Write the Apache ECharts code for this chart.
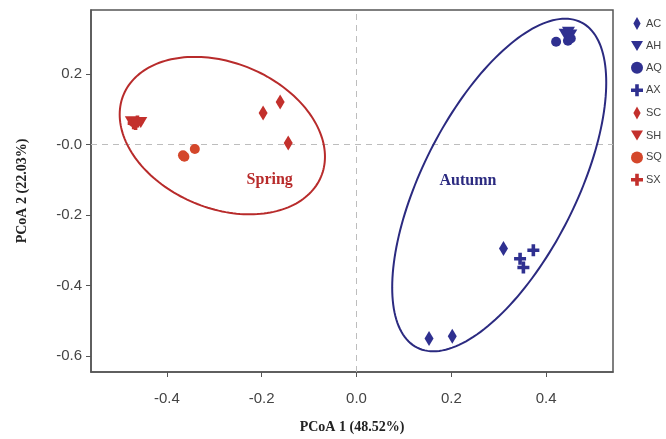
<!DOCTYPE html>
<html>
<head>
<meta charset="utf-8">
<script src="https://cdn.jsdelivr.net/npm/echarts@6/dist/echarts.min.js"></script>
<style>
  html, body { margin: 0; padding: 0; background: #fff; }
  #chart { width: 666px; height: 439px; }
</style>
</head>
<body>
<div id="chart"></div>
<script>
// PCoA scores, [PCoA1, PCoA2]
const AC = [[0.310, -0.295], [0.153, -0.550], [0.202, -0.544]];
const AH = [[0.440, 0.312], [0.452, 0.310], [0.447, 0.318]];
const AQ = [[0.421, 0.291], [0.446, 0.294], [0.452, 0.300]];
const AX = [[0.373, -0.300], [0.345, -0.324], [0.352, -0.349]];
const SC = [[-0.197, 0.089], [-0.161, 0.120], [-0.144, 0.004]];
const SH = [[-0.475, 0.064], [-0.463, 0.062], [-0.455, 0.062]];
const SQ = [[-0.341, -0.013], [-0.363, -0.035], [-0.366, -0.031]];
const SX = [[-0.470, 0.060], [-0.462, 0.065], [-0.466, 0.058]];

const groupNames = ['AC', 'AH', 'AQ', 'AX', 'SC', 'SH', 'SQ', 'SX'];
const groupData = [AC, AH, AQ, AX, SC, SH, SQ, SX];

// confidence ellipses: centre and the two semi-axis vectors, in data units
const ellipseNames = ['Spring', 'Autumn'];
const ellipseCenters = [[-0.283, 0.025], [0.301, -0.115]];
const ellipseAxisU = [[0.208, -0.117], [0.173, 0.461]];
const ellipseAxisV = [[-0.060, -0.190], [0.145, -0.098]];
const labelPos = [[-0.183, -0.100], [0.235, -0.102]];

const xTicks = [-0.4, -0.2, 0, 0.2, 0.4];
const yTicks = [-0.6, -0.4, -0.2, 0, 0.2];

const RED = '#c3302c';
const ORANGE = '#d4472b';
const BLUE = '#2f3090';
const ELL_COLORS = ['#b82b2b', '#2b2a80'];

const DIAMOND = 'path://M5,0 L10,9 L5,18 L0,9 Z';
const TRI_DOWN = 'path://M0,0 L12,0 L6,10 Z';
const CROSS = 'path://M3.5,0 H6.5 V3.5 H10 V6.5 H6.5 V10 H3.5 V6.5 H0 V3.5 H3.5 Z';

const groupSymbols = [DIAMOND, TRI_DOWN, 'circle', CROSS, DIAMOND, TRI_DOWN, 'circle', CROSS];
const symbolSizes = [[9, 15], [13, 11], 10, [12, 12], [9, 15], [13, 11], 10, [12, 12]];
const groupColors = [BLUE, BLUE, BLUE, BLUE, RED, RED, ORANGE, RED];

const chart = echarts.init(document.getElementById('chart'));

const scatterSeries = groupNames.map((name, i) => ({
  name: name,
  type: 'scatter',
  data: groupData[i],
  symbol: groupSymbols[i],
  symbolSize: symbolSizes[i],
  itemStyle: { color: groupColors[i], opacity: 1 },
  z: 5
}));

// dashed zero lines
scatterSeries[0].markLine = {
  silent: true,
  symbol: 'none',
  label: { show: false },
  lineStyle: { type: [6, 5], color: '#bdbdbd', width: 1 },
  data: [{ xAxis: 0 }, { yAxis: 0 }],
  z: 1
};

const option = {
  animation: false,
  backgroundColor: '#fff',
  grid: {
    left: 91, right: 53, top: 10, bottom: 66,
    show: true, borderColor: '#555', borderWidth: 1.5
  },
  legend: {
    orient: 'vertical',
    left: 626,
    top: 12,
    itemWidth: 12,
    itemHeight: 13,
    itemGap: 10.4,
    data: groupNames,
    textStyle: { fontFamily: 'Liberation Sans', fontSize: 11, color: '#444', padding: [0, 0, 0, -2] }
  },
  xAxis: {
    type: 'value',
    min: -0.56,
    max: 0.541,
    name: 'PCoA 1 (48.52%)',
    nameLocation: 'middle',
    nameGap: 48,
    nameTextStyle: { fontFamily: 'Liberation Serif', fontWeight: 'bold', fontSize: 14, color: '#222' },
    splitLine: { show: false },
    axisLine: { onZero: false, lineStyle: { color: '#555', width: 1.5 } },
    axisTick: { customValues: xTicks, length: 5, lineStyle: { color: '#555' } },
    axisLabel: {
      customValues: xTicks,
      margin: 19,
      fontFamily: 'Liberation Sans', fontSize: 15, color: '#444',
      formatter: v => v.toFixed(1)
    }
  },
  yAxis: {
    type: 'value',
    min: -0.645,
    max: 0.381,
    name: 'PCoA 2 (22.03%)',
    nameLocation: 'middle',
    nameGap: 62,
    nameTextStyle: { fontFamily: 'Liberation Serif', fontWeight: 'bold', fontSize: 14, color: '#222' },
    splitLine: { show: false },
    axisLine: { onZero: false, lineStyle: { color: '#555', width: 1.5 } },
    axisTick: { customValues: yTicks, length: 5, lineStyle: { color: '#555' } },
    axisLabel: {
      customValues: yTicks,
      margin: 9,
      fontFamily: 'Liberation Sans', fontSize: 15, color: '#444',
      formatter: v => (v === 0 ? '-0.0' : v.toFixed(1))
    }
  },
  series: [
    {
      name: 'ellipses',
      type: 'custom',
      silent: true,
      legendHoverLink: false,
      z: 3,
      data: ellipseNames.map((n, i) => [ellipseCenters[i][0], ellipseCenters[i][1], i]),
      renderItem: function (params, api) {
        const i = api.value(2);
        const c = ellipseCenters[i], u = ellipseAxisU[i], v = ellipseAxisV[i];
        const pts = [];
        for (let k = 0; k <= 180; k++) {
          const t = (k / 180) * Math.PI * 2;
          pts.push(api.coord([
            c[0] + u[0] * Math.cos(t) + v[0] * Math.sin(t),
            c[1] + u[1] * Math.cos(t) + v[1] * Math.sin(t)
          ]));
        }
        return {
          type: 'polyline',
          shape: { points: pts },
          style: { fill: 'none', stroke: ELL_COLORS[i], lineWidth: 2 }
        };
      }
    },
    {
      name: 'labels',
      type: 'scatter',
      silent: true,
      symbolSize: 0,
      itemStyle: { opacity: 1 },
      z: 4,
      data: ellipseNames.map((n, i) => ({
        name: n,
        value: labelPos[i],
        label: {
          show: true,
          position: 'inside',
          formatter: '{b}',
          fontFamily: 'Liberation Serif',
          fontWeight: 'bold',
          fontSize: 16,
          color: ELL_COLORS[i],
          opacity: 1
        }
      }))
    },
    ...scatterSeries
  ]
};

chart.setOption(option);
</script>
</body>
</html>
